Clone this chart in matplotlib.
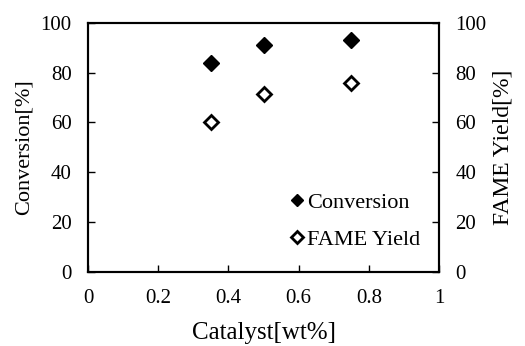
import matplotlib
matplotlib.use("Agg")
import matplotlib.pyplot as plt

# =====================================================
# DATA
# =====================================================

catalyst = [0.35, 0.5, 0.75]
conversion = [84.0, 91.2, 93.3]
fame_yield = [60.1, 71.5, 75.8]

x_ticks = [0, 0.2, 0.4, 0.6, 0.8, 1]
x_tick_labels = ["0", "0.2", "0.4", "0.6", "0.8", "1"]
y_ticks = [0, 20, 40, 60, 80, 100]

plt.rcParams["font.family"] = ["Liberation Serif", "DejaVu Serif"]
plt.rcParams["font.size"] = 15

# =====================================================
# PLOT
# =====================================================

fig = plt.figure(figsize=(5.25, 3.46), dpi=100)
ax = fig.add_axes([0.168, 0.214, 0.668, 0.72])
ax2 = ax.twinx()

h1, = ax.plot(
    catalyst,
    conversion,
    linestyle="none",
    marker="D",
    markersize=8,
    color="black",
    label="Conversion"
)

h2, = ax2.plot(
    catalyst,
    fame_yield,
    linestyle="none",
    marker="D",
    markersize=7.5,
    markerfacecolor="white",
    markeredgecolor="black",
    markeredgewidth=2,
    label="FAME Yield"
)

ax.set_xlim(0, 1)
ax.set_ylim(0, 100)
ax2.set_ylim(0, 100)

ax.set_xticks(x_ticks)
ax.set_xticklabels(x_tick_labels)
ax.set_yticks(y_ticks)
ax2.set_yticks(y_ticks)

ax.tick_params(axis="both", direction="in", length=5, width=1, pad=12)
ax2.tick_params(axis="y", direction="in", length=5, width=1, pad=12)

for a in (ax, ax2):
    for sp in a.spines.values():
        sp.set_linewidth(1.5)

ax.set_xlabel("Catalyst[wt%]", fontsize=18, labelpad=10.5)
ax.set_ylabel("Conversion[%]", fontsize=16, labelpad=5)
ax2.set_ylabel("FAME Yield[%]", fontsize=17, labelpad=4)

ax.legend(
    handles=[h1, h2],
    loc="lower right",
    bbox_to_anchor=(1.003, 0.008),
    frameon=False,
    markerscale=0.75,
    handlelength=0.6,
    handletextpad=0.15,
    labelspacing=0.75,
    fontsize=16
)

fig.savefig("out.png", dpi=100)
